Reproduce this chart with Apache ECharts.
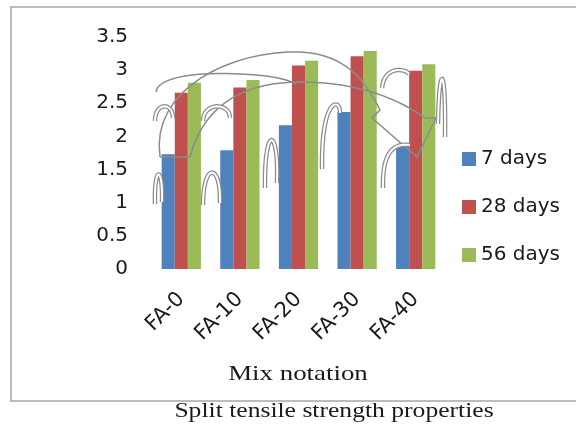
<!DOCTYPE html>
<html>
<head>
<meta charset="utf-8">
<script src="https://cdn.jsdelivr.net/npm/echarts@6/dist/echarts.min.js"></script>
<style>
  html, body { margin: 0; padding: 0; background: #fff; }
  #chart { width: 576px; height: 427px; }
</style>
</head>
<body>
<div id="chart"></div>
<script>
// Split tensile strength (MPa) by mix and curing age
const mixes = ['FA-0', 'FA-10', 'FA-20', 'FA-30', 'FA-40'];
const days7 = [1.73, 1.79, 2.17, 2.37, 1.87];
const days28 = [2.66, 2.74, 3.07, 3.21, 2.99];
const days56 = [2.81, 2.85, 3.14, 3.29, 3.09];
const seriesNames = ['7 days', '28 days', '56 days'];
const seriesColors = ['#4F81BD', '#C0504D', '#9BBB59'];

// Hollow grey curved-arrow strokes overlaid on the plot (M / C / L / Z commands)
const arrowOutlines = [
  'M160,157 C150,90 230,50 300,52 C345,54 365,80 380,110 L372,118 L417,157 L436,118 L425,118 C400,100 360,82 300,82 C250,82 205,100 190,157 Z',
  'M156,92 C158,76 200,72 240,74 C265,75 285,78 296,84'
];
const arches = [
  'M155,121 C155,102 173,102 173,118',
  'M203,121 C203,102 230,102 230,118',
  'M155,204 C154,165 163,165 162,202',
  'M203,205 C203,162 221,162 220,203',
  'M265,188 C264,125 279,125 277,183',
  'M322,169 C321,95 341,98 340,113',
  'M382,88 C384,66 405,68 409,74',
  'M438,124 C439,62 446,62 445,137',
  'M383,188 C382,150 395,143 410,145'
];

// Turn a small path string into polyline points
function pathToPoints(d) {
  const tokens = d.match(/[MCLZ]|-?\d+(\.\d+)?/g);
  const pts = [];
  let i = 0, cmd = null, start = null, cur = null;
  const num = function () { return parseFloat(tokens[i++]); };
  while (i < tokens.length) {
    if (/[MCLZ]/.test(tokens[i])) cmd = tokens[i++];
    if (cmd === 'M') { cur = [num(), num()]; start = cur; pts.push(cur); cmd = 'L'; }
    else if (cmd === 'L') { cur = [num(), num()]; pts.push(cur); }
    else if (cmd === 'C') {
      const c1 = [num(), num()], c2 = [num(), num()], e = [num(), num()];
      for (let s = 1; s <= 16; s++) {
        const t = s / 16, u = 1 - t;
        pts.push([
          u * u * u * cur[0] + 3 * u * u * t * c1[0] + 3 * u * t * t * c2[0] + t * t * t * e[0],
          u * u * u * cur[1] + 3 * u * u * t * c1[1] + 3 * u * t * t * c2[1] + t * t * t * e[1]
        ]);
      }
      cur = e;
    } else if (cmd === 'Z') { pts.push(start); cmd = null; }
  }
  return pts;
}

const sansFont = '"DejaVu Sans", sans-serif';
const chart = echarts.init(document.getElementById('chart'));

const graphics = [
  {
    type: 'rect', z: 0, silent: true,
    shape: { x: 11, y: 7, width: 600, height: 394 },
    style: { fill: 'none', stroke: '#a6a6a6', lineWidth: 1.5 }
  },
  {
    type: 'text', z: 100, x: 298, y: 374, scaleX: 1.28,
    style: {
      text: 'Mix notation', x: 0, y: 0, align: 'center', verticalAlign: 'middle',
      font: '21px "Liberation Serif", serif', fill: '#1a1a1a'
    }
  },
  {
    type: 'text', z: 100, x: 334, y: 412, scaleX: 1.28,
    style: {
      text: 'Split tensile strength properties', x: 0, y: 0, align: 'center', verticalAlign: 'middle',
      font: '20px "Liberation Serif", serif', fill: '#1a1a1a'
    }
  }
];
arrowOutlines.forEach(function (p) {
  graphics.push({ type: 'polyline', z: 100, silent: true, shape: { points: pathToPoints(p) },
    style: { fill: 'none', stroke: '#8c8c8c', lineWidth: 1.5 } });
});
arches.forEach(function (p) {
  const pts = pathToPoints(p);
  graphics.push({ type: 'polyline', z: 100, silent: true, shape: { points: pts },
    style: { fill: 'none', stroke: '#8c8c8c', lineWidth: 4.5, lineCap: 'butt' } });
  graphics.push({ type: 'polyline', z: 101, silent: true, shape: { points: pts },
    style: { fill: 'none', stroke: '#ffffff', lineWidth: 2, lineCap: 'butt' } });
});

chart.setOption({
  animation: false,
  backgroundColor: '#ffffff',
  grid: { left: 152, top: 37, width: 293, height: 232, containLabel: false },
  legend: {
    orient: 'vertical',
    left: 457,
    top: 144,
    itemWidth: 14,
    itemHeight: 14,
    itemGap: 28,
    icon: 'rect',
    textStyle: { fontFamily: sansFont, fontSize: 20, color: '#1a1a1a' },
    data: seriesNames
  },
  xAxis: {
    type: 'category',
    data: mixes,
    axisLine: { show: false },
    axisTick: { show: false },
    axisLabel: {
      rotate: 45, margin: 27, interval: 0,
      fontFamily: sansFont, fontSize: 21, color: '#1a1a1a'
    }
  },
  yAxis: {
    type: 'value',
    min: 0, max: 3.5, interval: 0.5,
    axisLine: { show: false },
    axisTick: { show: false },
    splitLine: { show: false },
    axisLabel: {
      margin: 24, padding: [5, 0, 0, 0],
      fontFamily: sansFont, fontSize: 20, color: '#1a1a1a'
    }
  },
  series: [days7, days28, days56].map(function (vals, i) {
    return {
      name: seriesNames[i],
      type: 'bar',
      data: vals,
      barGap: '0%',
      barCategoryGap: '33%',
      itemStyle: { color: seriesColors[i] }
    };
  }),
  graphic: graphics
});
</script>
</body>
</html>
